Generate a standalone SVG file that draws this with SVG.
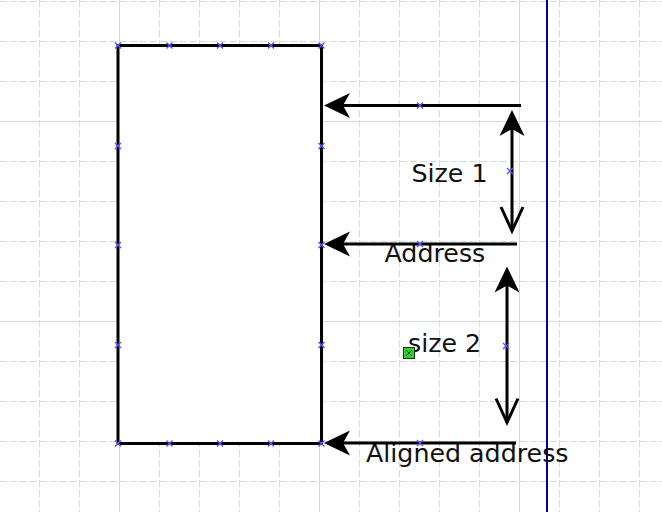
<svg xmlns="http://www.w3.org/2000/svg" width="662" height="512" viewBox="0 0 662 512">
<style>
.grid{stroke:#cfdddd;stroke-width:1;fill:none}
.dash{stroke-dasharray:7 3}
.conn{stroke:#000;stroke-width:3;fill:none}
.cp{stroke:#5555ff;stroke-width:1.4;fill:none}
.lbl{font-family:"DejaVu Sans","Liberation Sans",sans-serif;font-size:25.3px;fill:#111}
</style>
<defs>
<marker id="head" markerUnits="userSpaceOnUse" viewBox="-26 -14 28 28" refX="-15" refY="0" markerWidth="28" markerHeight="28" orient="auto-start-reverse" overflow="visible">
<path d="M0,0 L-26,-12.5 L-19,0 L-26,12.5 Z" fill="#000"/>
</marker>
<marker id="vee" markerUnits="userSpaceOnUse" viewBox="-26 -14 28 28" refX="0" refY="0" markerWidth="28" markerHeight="28" orient="auto" overflow="visible">
<path d="M-24,-11 L0,0 L-24,11" fill="none" stroke="#000" stroke-width="3"/>
</marker>
<path id="x" d="M-3,-3 L3,3 M-3,3 L3,-3"/>
</defs>
<rect width="662" height="512" fill="#fff"/>
<g id="grid">
<g class="grid dash">
<path d="M39.5,0V512M79.5,0V512M159.5,0V512M199.5,0V512M239.5,0V512M279.5,0V512M359.5,0V512M399.5,0V512M439.5,0V512M479.5,0V512M559.5,0V512M599.5,0V512M639.5,0V512"/>
<path d="M0,1.5H662M0,41.5H662M0,81.5H662M0,161.5H662M0,201.5H662M0,241.5H662M0,281.5H662M0,361.5H662M0,401.5H662M0,441.5H662M0,481.5H662"/>
</g>
<path class="grid" d="M119.5,0V512M319.5,0V512M519.5,0V512M0,121.5H662M0,321.5H662"/>
</g>
<line x1="547" y1="0" x2="547" y2="512" stroke="#000099" stroke-width="2"/>
<g id="block">
<rect x="118" y="45.5" width="203.5" height="398" fill="#fff" stroke="#000" stroke-width="3"/>
</g>
<g id="label-size1"><text class="lbl" x="411.5" y="182">Size 1</text></g>
<g id="label-address"><text class="lbl" x="384.5" y="262">Address</text></g>
<g id="label-size2"><text class="lbl" x="408" y="352">size 2</text></g>
<g id="label-aligned"><text class="lbl" x="366" y="462">Aligned address</text></g>
<g id="connectors">
<path class="conn" d="M339,105.5H521" marker-start="url(#head)"/>
<path class="conn" d="M339,244H517" marker-start="url(#head)"/>
<path class="conn" d="M339,443H516" marker-start="url(#head)"/>
<path class="conn" d="M512,125V231" marker-start="url(#head)" marker-end="url(#vee)"/>
<path class="conn" d="M507,281.5V422.5" marker-start="url(#head)" marker-end="url(#vee)"/>
</g>
<g id="connection-points" class="cp">
<use href="#x" x="118" y="45.5"/><use href="#x" x="169.5" y="45.5"/><use href="#x" x="220" y="45.5"/><use href="#x" x="271" y="45.5"/><use href="#x" x="321.5" y="45.5"/>
<use href="#x" x="118" y="146"/><use href="#x" x="118" y="245"/><use href="#x" x="118" y="345"/><use href="#x" x="118" y="443.5"/>
<use href="#x" x="321.5" y="146"/><use href="#x" x="321.5" y="245"/><use href="#x" x="321.5" y="345"/><use href="#x" x="321.5" y="443.5"/>
<use href="#x" x="169.5" y="443.5"/><use href="#x" x="220" y="443.5"/><use href="#x" x="271" y="443.5"/>
<use href="#x" x="420" y="105.5"/><use href="#x" x="420" y="244"/><use href="#x" x="420" y="443"/>
<use href="#x" x="510" y="171"/><use href="#x" x="506" y="346"/>
</g>
<g id="handle">
<rect x="403.5" y="347.5" width="11" height="11" fill="#2ad42a" stroke="#0a3a0a" stroke-width="1"/>
<path d="M406,350 L412,356 M406,356 L412,350" stroke="#0a3a0a" stroke-width="1"/>
</g>
</svg>
